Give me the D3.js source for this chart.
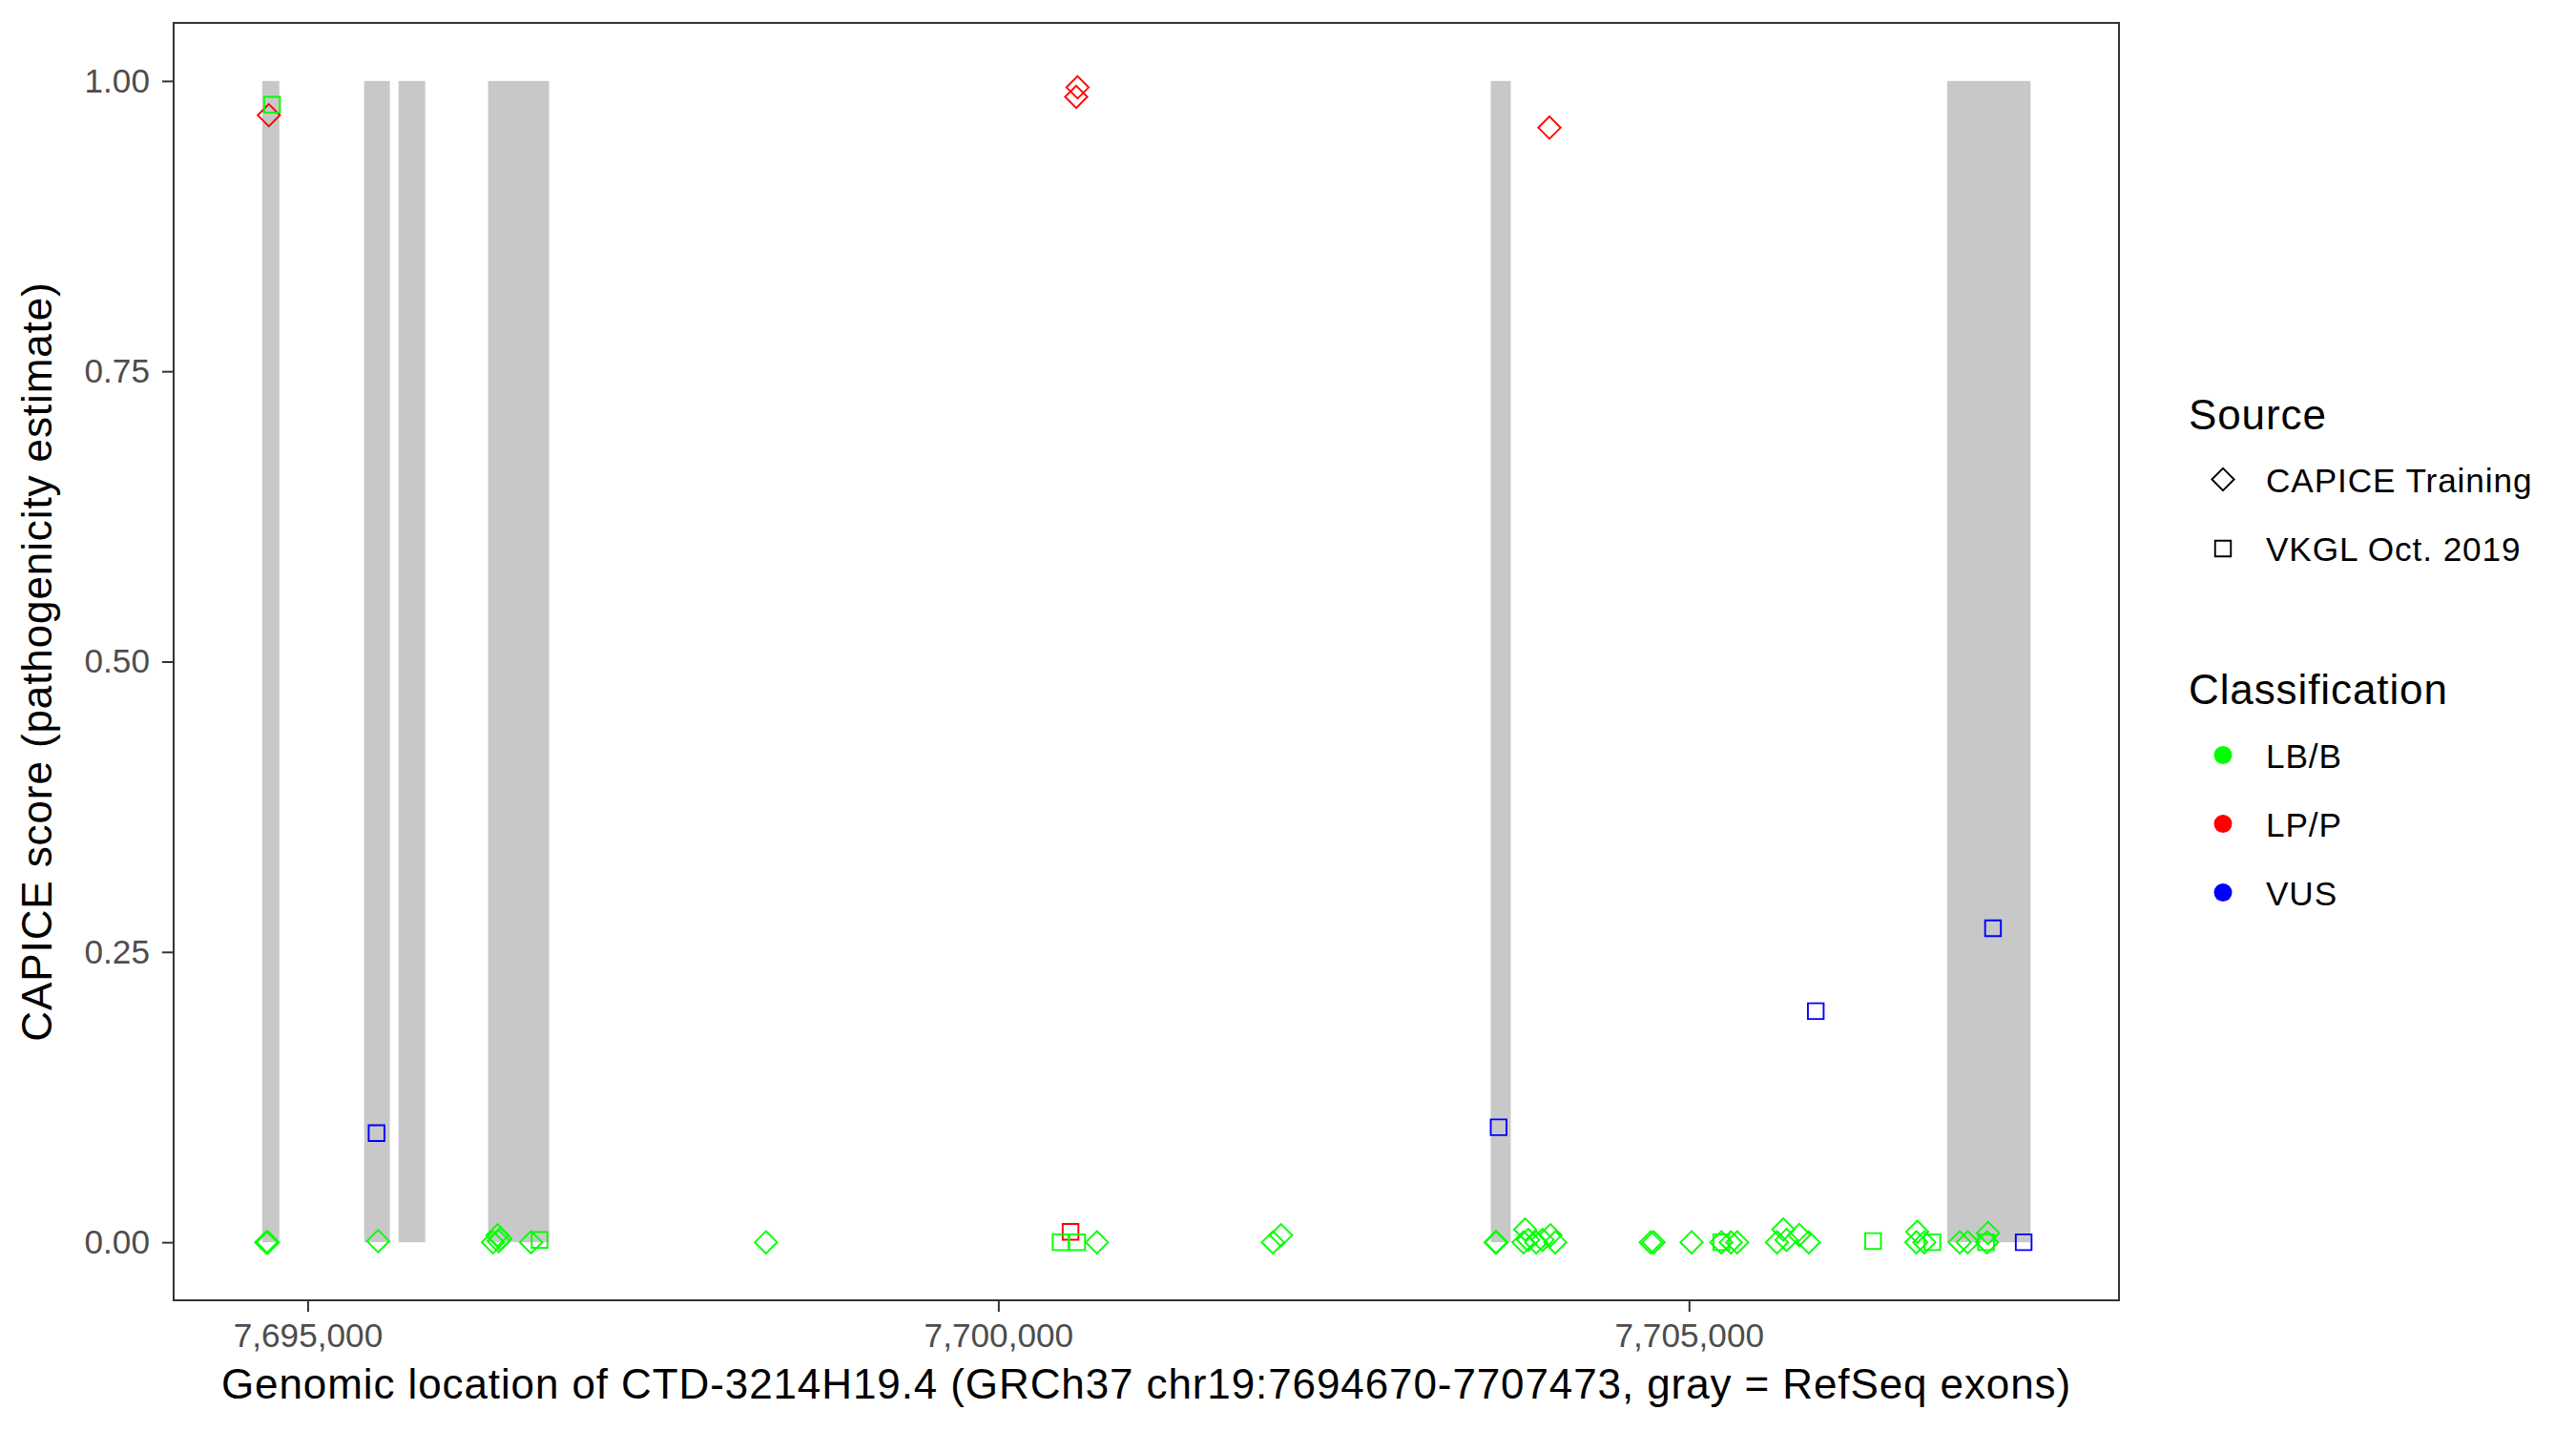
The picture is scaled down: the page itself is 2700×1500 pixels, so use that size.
<!DOCTYPE html>
<html>
<head>
<meta charset="utf-8">
<script src="https://cdn.jsdelivr.net/npm/d3@7"></script>
<style>
  html, body { margin: 0; padding: 0; background: #ffffff; }
  svg { display: block; }
  text { font-family: "Liberation Sans", Arial, Helvetica, sans-serif; }
</style>
</head>
<body>
<svg id="chart" width="2700" height="1500"></svg>
<script>
// ---------------- data ----------------
const geneStart = 7694670;
const geneEnd = 7707473;

const exonStart = [7694671, 7695409, 7695658, 7696306, 7703565, 7706870];
const exonEnd   = [7694795, 7695595, 7695851, 7696748, 7703710, 7707473];

// variants: position, CAPICE score, source, classification
const varPos = [
  7694719, 7694742, 7700574, 7700564, 7703990, 7703622, 7705918, 7707201, 7695499, 7707423, 7700523,
  7694700, 7694712, 7695510, 7696341, 7696375, 7696395, 7696383, 7696617, 7696679, 7698318,
  7700451, 7700571, 7700714, 7701988, 7702047, 7703600, 7703606, 7703814, 7703802, 7703836,
  7703894, 7703940, 7703997, 7704032, 7704723, 7704744, 7705019, 7705234, 7705234, 7705303,
  7705349, 7705683, 7705637, 7705706, 7705798, 7705867, 7706333, 7706653, 7706646, 7706704,
  7706762, 7706960, 7707018, 7707151, 7707165, 7707158
];
const varScore = [
  0.9705, 0.9795, 0.9945, 0.9863, 0.9598, 0.099, 0.199, 0.2704, 0.094, 0.0, 0.009,
  0, 0, 0.001, 0, 0.006, 0.003, 0.001, 0, 0.002, 0,
  0, 0, 0, 0, 0.006, 0, 0, 0.011, 0, 0.002,
  0, 0.002, 0.006, 0, 0, 0, 0, 0, 0, 0,
  0, 0.011, 0, 0.002, 0.0063, 0, 0.001, 0.009, 0, 0,
  0, 0, 0, 0, 0.008, 0
];
const varSource = [
  "C","V","C","C","C","V","V","V","V","V","V",
  "C","C","C","C","C","C","C","C","V","C",
  "V","V","C","C","C","C","C","C","C","C",
  "C","C","C","C","C","C","C","V","C","C",
  "C","C","C","C","C","C","V","C","C","C",
  "V","C","C","V","C","C"
];
const varClass = [
  "LP/P","LB/B","LP/P","LP/P","LP/P","VUS","VUS","VUS","VUS","VUS","LP/P",
  "LB/B","LB/B","LB/B","LB/B","LB/B","LB/B","LB/B","LB/B","LB/B","LB/B",
  "LB/B","LB/B","LB/B","LB/B","LB/B","LB/B","LB/B","LB/B","LB/B","LB/B",
  "LB/B","LB/B","LB/B","LB/B","LB/B","LB/B","LB/B","LB/B","LB/B","LB/B",
  "LB/B","LB/B","LB/B","LB/B","LB/B","LB/B","LB/B","LB/B","LB/B","LB/B",
  "LB/B","LB/B","LB/B","LB/B","LB/B","LB/B"
];

const sourceKeys = ["C", "V"];
const sourceLabels = ["CAPICE Training", "VKGL Oct. 2019"];
const classLabels = ["LB/B", "LP/P", "VUS"];
const classColors = ["#00ff00", "#ff0000", "#0000ff"];

const yTicks = [0, 0.25, 0.5, 0.75, 1];
const xTicks = [7695000, 7700000, 7705000];

const xTitle = "Genomic location of CTD-3214H19.4 (GRCh37 chr19:7694670-7707473, gray = RefSeq exons)";
const yTitle = "CAPICE score (pathogenicity estimate)";

// ---------------- layout ----------------
const P = { left: 182, top: 24, right: 2221, bottom: 1363 };
const svg = d3.select("#chart");

const span = geneEnd - geneStart;
const x = d3.scaleLinear()
  .domain([geneStart - 0.05 * span, geneEnd + 0.05 * span])
  .range([P.left, P.right]);
const y = d3.scaleLinear()
  .domain([-0.05, 1.05])
  .range([P.bottom, P.top]);

const color = d3.scaleOrdinal().domain(classLabels).range(classColors);

// custom R-like symbols
const squareSym = { draw(ctx, size) { const h = Math.sqrt(size) / 2; ctx.moveTo(-h, -h); ctx.lineTo(h, -h); ctx.lineTo(h, h); ctx.lineTo(-h, h); ctx.closePath(); } };
const diamondSym = { draw(ctx, size) { const h = Math.sqrt(size) / 2 * Math.SQRT2; ctx.moveTo(0, -h); ctx.lineTo(h, 0); ctx.lineTo(0, h); ctx.lineTo(-h, 0); ctx.closePath(); } };
const shape = d3.scaleOrdinal().domain(sourceKeys).range([diamondSym, squareSym]);
const symSize = 16.5 * 16.5;

// panel background
svg.append("rect").attr("x", P.left).attr("y", P.top)
  .attr("width", P.right - P.left).attr("height", P.bottom - P.top)
  .attr("fill", "#ffffff");

// exons
svg.append("g").selectAll("rect")
  .data(exonStart.map((s, i) => ({ s, e: exonEnd[i] })))
  .join("rect")
  .attr("x", d => x(d.s))
  .attr("width", d => x(d.e) - x(d.s))
  .attr("y", y(1))
  .attr("height", y(0) - y(1))
  .attr("fill", "#c8c8c8");

// points
const pts = varPos.map((p, i) => ({ p, s: varScore[i], src: varSource[i], cls: varClass[i] }));
svg.append("g").selectAll("path")
  .data(pts)
  .join("path")
  .attr("transform", d => `translate(${x(d.p)},${y(d.s)})`)
  .attr("d", d => d3.symbol().type(shape(d.src)).size(symSize)())
  .attr("fill", "none")
  .attr("stroke", d => color(d.cls))
  .attr("stroke-width", 1.9);

// panel border
svg.append("rect").attr("x", P.left).attr("y", P.top)
  .attr("width", P.right - P.left).attr("height", P.bottom - P.top)
  .attr("fill", "none").attr("stroke", "#333333").attr("stroke-width", 2);

// axes
const yAxis = svg.append("g").attr("transform", `translate(${P.left},0)`)
  .call(d3.axisLeft(y).tickValues(yTicks).tickFormat(d3.format(".2f")).tickSize(12).tickPadding(13).tickSizeOuter(0));
const xAxis = svg.append("g").attr("transform", `translate(0,${P.bottom})`)
  .call(d3.axisBottom(x).tickValues(xTicks).tickFormat(d3.format(",")).tickSize(12).tickPadding(12).tickSizeOuter(0));
[yAxis, xAxis].forEach(g => {
  g.select(".domain").remove();
  g.selectAll(".tick line").attr("stroke", "#333333").attr("stroke-width", 2);
  g.selectAll(".tick text").attr("fill", "#4d4d4d").style("font-size", "35.2px")
    .style("font-family", '"Liberation Sans", Arial, sans-serif');
});

// axis titles
svg.append("text").attr("x", (P.left + P.right) / 2).attr("y", 1466)
  .attr("text-anchor", "middle").attr("font-size", 44).attr("letter-spacing", 0.9)
  .attr("fill", "#000").text(xTitle);
svg.append("text")
  .attr("transform", `translate(54,${(P.top + P.bottom) / 2}) rotate(-90)`)
  .attr("text-anchor", "middle").attr("font-size", 44).attr("letter-spacing", 0.9)
  .attr("fill", "#000").text(yTitle);

// legends
const lg = svg.append("g");
lg.append("text").attr("x", 2294).attr("y", 450).attr("font-size", 44).attr("letter-spacing", 0.9).text("Source");
sourceKeys.forEach((k, i) => {
  const cy = 502.5 + i * 72.5;
  lg.append("path").attr("transform", `translate(2330,${cy})`)
    .attr("d", d3.symbol().type(shape(k)).size(symSize)())
    .attr("fill", "none").attr("stroke", "#000").attr("stroke-width", 1.9);
  lg.append("text").attr("x", 2375).attr("y", cy + 13).attr("font-size", 35.2).attr("letter-spacing", 0.9).text(sourceLabels[i]);
});
lg.append("text").attr("x", 2294).attr("y", 738).attr("font-size", 44).attr("letter-spacing", 0.9).text("Classification");
classLabels.forEach((c, i) => {
  const cy = 791.5 + i * 72;
  lg.append("circle").attr("cx", 2330).attr("cy", cy).attr("r", 9.5).attr("fill", color(c));
  lg.append("text").attr("x", 2375).attr("y", cy + 13).attr("font-size", 35.2).attr("letter-spacing", 0.9).text(c);
});
</script>
</body>
</html>
